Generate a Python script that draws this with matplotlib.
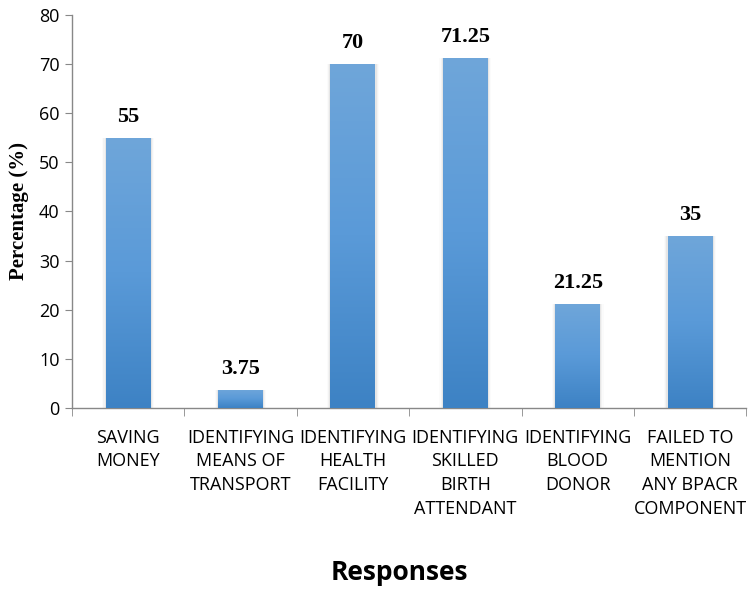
import matplotlib
matplotlib.use("Agg")
import matplotlib.pyplot as plt
import numpy as np
from matplotlib.patches import Rectangle
from matplotlib.colors import LinearSegmentedColormap

categories = ["SAVING\nMONEY", "IDENTIFYING\nMEANS OF\nTRANSPORT", "IDENTIFYING\nHEALTH\nFACILITY",
              "IDENTIFYING\nSKILLED\nBIRTH\nATTENDANT", "IDENTIFYING\nBLOOD\nDONOR",
              "FAILED TO\nMENTION\nANY BPACR\nCOMPONENT"]
values = [55, 3.75, 70, 71.25, 21.25, 35]
value_labels = ["55", "3.75", "70", "71.25", "21.25", "35"]
yticks = [0, 10, 20, 30, 40, 50, 60, 70, 80]

fig = plt.figure(figsize=(7.5, 5.93), dpi=100)
ax = fig.add_axes([0.096, 0.312, 0.899, 0.663])

x = np.arange(len(values))
width = 0.4
bars = ax.bar(x, values, width=width, color="none", edgecolor="none", zorder=3)

cmap = LinearSegmentedColormap.from_list("g", ["#3d82c4", "#5a9ad8", "#6fa6da"])
grad = np.linspace(0, 1, 256).reshape(-1, 1)
for b in bars:
    x0, y0 = b.get_x(), b.get_y()
    w, h = b.get_width(), b.get_height()
    # soft shadow on the sides
    for i, a in enumerate([0.05, 0.03, 0.015]):
        d = 0.01 * (i + 1)
        sh = Rectangle((x0 - d, y0), w + 2 * d, h, facecolor="black",
                       alpha=a, edgecolor="none", zorder=2)
        ax.add_patch(sh)
    im = ax.imshow(grad, extent=[x0, x0 + w, y0, y0 + h], origin="lower",
                   cmap=cmap, aspect="auto", zorder=3, interpolation="bicubic")
    im.set_clip_path(b)

for xi, v, lab in zip(x, values, value_labels):
    ax.text(xi, v + 2.2, lab, ha="center", va="bottom", fontsize=16,
            fontweight="bold", family="Liberation Serif", color="black")

ax.set_xlim(-0.5, len(values) - 0.5)
ax.set_ylim(0, 80)
ax.set_yticks(yticks)
ax.set_yticklabels([str(t) for t in yticks], fontsize=13, family="Open Sans")
ax.set_xticks(x)
ax.set_xticklabels(categories, fontsize=13, family="Open Sans", linespacing=1.4)
ax.set_xticks(np.arange(len(values) + 1) - 0.5, minor=True)
ax.tick_params(axis="x", which="major", length=0, pad=15)
ax.tick_params(axis="x", which="minor", length=6, color="#888888", direction="out")
ax.tick_params(axis="y", length=5, color="#888888", direction="out", pad=4)
for s in ["top", "right"]:
    ax.spines[s].set_visible(False)
for s in ["left", "bottom"]:
    ax.spines[s].set_color("#888888")
    ax.spines[s].set_linewidth(1.0)

ax.set_ylabel("Percentage (%)", fontsize=15, fontweight="bold", family="Liberation Serif", labelpad=7)
fig.text(0.533, 0.035, "Responses", ha="center", va="center", fontsize=19,
         fontweight="bold", family="Open Sans")

fig.savefig("out.png", dpi=100)
